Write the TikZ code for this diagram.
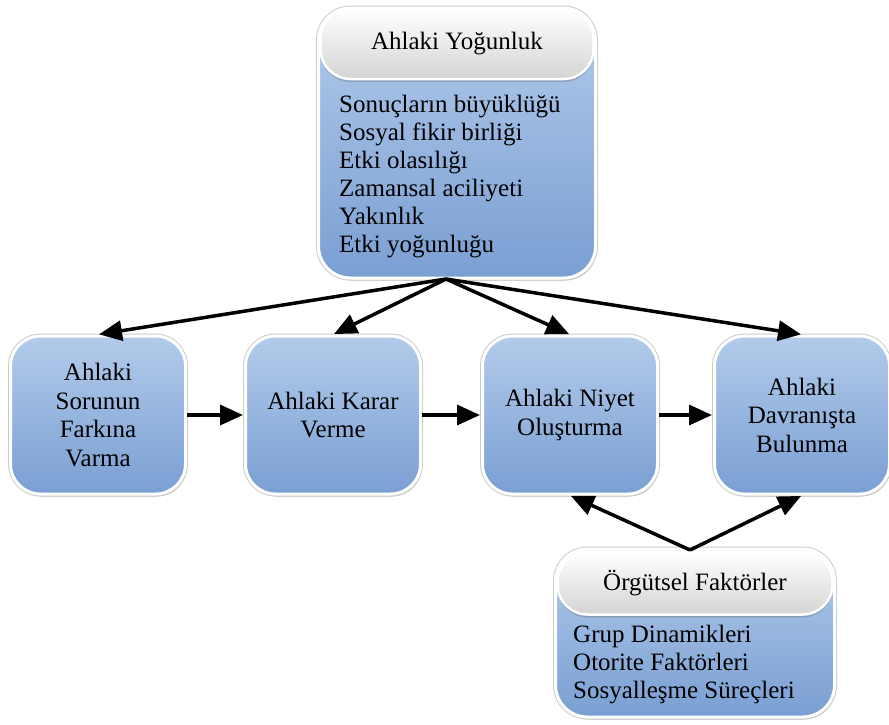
\documentclass[tikz,border=0pt]{standalone}
\usepackage{fontspec}
\setmainfont{Liberation Serif}
\usetikzlibrary{arrows.meta,shadows,calc}

\definecolor{bluetop}{RGB}{178,203,234}
\definecolor{bluebot}{RGB}{122,159,211}
\definecolor{headbot}{RGB}{212,212,212}

\tikzset{
  boxshadow/.style={drop shadow={shadow xshift=1.5pt,shadow yshift=-2.5pt,opacity=0.35,fill=black!70}},
  bluebox/.style={rectangle, rounded corners=30pt, draw=white, line width=3pt,
    top color=bluetop, bottom color=bluebot, boxshadow,
    preaction={draw=black!20, line width=5pt},
    minimum width=175pt, minimum height=158pt,
    align=center, font=\fontsize{25}{28.5}\selectfont, inner sep=0pt},
  groupbox/.style={rectangle, rounded corners=32pt, draw=white, line width=3pt,
    top color=bluetop, bottom color=bluebot, boxshadow,
    preaction={draw=black!20, line width=5pt}},
  headbox/.style={rectangle, rounded corners=30pt, draw=white, line width=2.5pt,
    top color=white, bottom color=headbot,
    drop shadow={shadow xshift=0pt,shadow yshift=-3pt,opacity=0.3,fill=black!60},
    font=\fontsize{25}{28}\selectfont, inner sep=0pt},
  listtext/.style={align=left, anchor=north west, inner sep=0pt,
    font=\fontsize{25}{28}\selectfont},
  flow/.style={line width=3.5pt, -{Triangle[length=23pt,width=20pt]}, shorten >=1pt}
}

\begin{document}
\begin{tikzpicture}[x=1pt,y=-1pt]
  \useasboundingbox (0,0) rectangle (889,724);

  % Ahlaki Yoğunluk group
  \node[groupbox, minimum width=277pt, minimum height=270pt] (ay) at (457,143) {};
  \node[headbox, minimum width=273pt, minimum height=70pt] (ayh) at (457,44) {Ahlaki Yoğunluk};
  \node[listtext] (ayl) at (339,95) {Sonuçların büyüklüğü\\Sosyal fikir birliği\\Etki olasılığı\\Zamansal aciliyeti\\Yakınlık\\Etki yoğunluğu};
  \coordinate (aysrc) at (446,279);

  % process steps
  \node[bluebox] (b1) at (98,415) {Ahlaki\\Sorunun\\Farkına\\Varma};
  \node[bluebox] (b2) at (333,415) {Ahlaki Karar\\Verme};
  \node[bluebox] (b3) at (570,415) {Ahlaki Niyet\\Oluşturma};
  \node[bluebox] (b4) at (802,415) {Ahlaki\\Davranışta\\Bulunma};

  % Örgütsel Faktörler group
  \node[groupbox, minimum width=279pt, minimum height=168pt] (of) at (695,633) {};
  \node[headbox, minimum width=275pt, minimum height=63pt] (ofh) at (695,583) {Örgütsel Faktörler};
  \node[listtext] (ofl) at (573,625) {Grup Dinamikleri\\Otorite Faktörleri\\Sosyalleşme Süreçleri};
  \coordinate (ofsrc) at (690,550);

  % connectors
  \draw[flow] (aysrc) -- (b1.north);
  \draw[flow] (aysrc) -- (b2.north);
  \draw[flow] (aysrc) -- (b3.north);
  \draw[flow] (aysrc) -- (b4.north);
  \draw[flow] (b1.east) -- (b2.west);
  \draw[flow] (b2.east) -- (b3.west);
  \draw[flow] (b3.east) -- (b4.west);
  \draw[flow] (ofsrc) -- (b3.south);
  \draw[flow] (ofsrc) -- (b4.south);
\end{tikzpicture}
\end{document}
